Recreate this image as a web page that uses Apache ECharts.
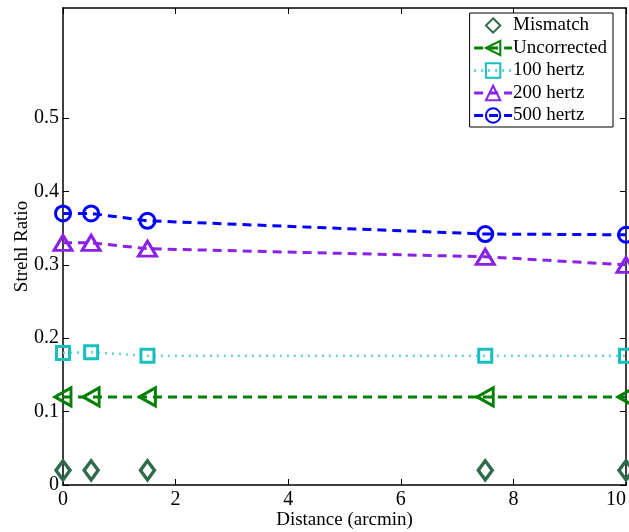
<!DOCTYPE html>
<html>
<head>
<meta charset="utf-8">
<script src="https://cdn.jsdelivr.net/npm/echarts@6/dist/echarts.min.js"></script>
<style>
  html, body { margin: 0; padding: 0; background: #fff; }
  #chart { width: 629px; height: 532px; }
</style>
</head>
<body>
<div id="chart"></div>
<script>
// data
let distance = [0, 0.5, 1.5, 7.5, 10]
let mismatch = [0.02, 0.02, 0.02, 0.02, 0.02]
let uncorrected = [0.12, 0.12, 0.12, 0.12, 0.12]
let hz100 = [0.18, 0.181, 0.176, 0.176, 0.176]
let hz200 = [0.33, 0.33, 0.322, 0.311, 0.30]
let hz500 = [0.37, 0.37, 0.36, 0.342, 0.341]
let xTicks = [0, 2, 4, 6, 8, 10]
let yTicks = [0, 0.1, 0.2, 0.3, 0.4, 0.5]
let names = ['Mismatch', 'Uncorrected', '100 hertz', '200 hertz', '500 hertz']

let pairs = ys => distance.map((x, i) => [x, ys[i]])

let myChart = echarts.init(document.getElementById('chart'))

let serif = 'Liberation Serif'
let clear = 'rgba(0,0,0,0)'

// axis helper, ticks point inward like matlab
function axisBase(extra) {
  return Object.assign({
    axisLine: { show: true, onZero: false, lineStyle: { color: '#000', width: 1.5 } },
    axisTick: { show: true, inside: true, length: 6, lineStyle: { color: '#000', width: 1 } },
    splitLine: { show: false },
    nameMoveOverlap: false,
    axisLabel: { color: '#000', fontFamily: serif, fontSize: 20 }
  }, extra)
}

let lineSeries = (name, data, color, symbol, size, dash, extra) => Object.assign({
  name: name,
  type: 'line',
  data: pairs(data),
  symbol: symbol,
  symbolSize: size,
  showAllSymbol: true,
  itemStyle: { color: clear, borderColor: color, borderWidth: 3 },
  lineStyle: { color: color, width: 3, type: dash },
  emphasis: { disabled: true },
  z: 3
}, extra || {})

let opt = {
  animation: false,
  grid: { left: 63, right: 3, top: 8, bottom: 47, outerBoundsMode: 'none', containLabel: false },
  legend: {
    right: 16,
    top: 13,
    orient: 'vertical',
    backgroundColor: '#fff',
    borderColor: '#000',
    borderWidth: 1,
    padding: [3, 6, 2, 3],
    itemGap: 3.5,
    itemWidth: 38,
    itemHeight: 18,
    textStyle: { fontFamily: serif, fontSize: 19, color: '#000', padding: [0, 0, 0, -4] },
    // mismatch has markers only, the others get a thick line in the key
    data: names.map((n, i) => i === 0 ? { name: n, lineStyle: { width: 0 } } : { name: n, lineStyle: { width: 3 } })
  },
  xAxis: [
    axisBase({
      type: 'value', min: 0, max: 10, interval: 2,
      name: 'Distance (arcmin)', nameLocation: 'middle', nameGap: 26,
      nameTextStyle: { fontFamily: serif, fontSize: 19, color: '#000' },
      axisLabel: { color: '#000', fontFamily: serif, fontSize: 20, margin: 5, alignMaxLabel: 'right' }
    }),
    axisBase({
      type: 'value', min: 0, max: 10, interval: 2, position: 'top',
      axisLabel: { show: false }
    })
  ],
  yAxis: [
    axisBase({
      type: 'value', min: 0, max: 0.65,
      axisTick: { show: true, inside: true, length: 6, customValues: yTicks, lineStyle: { color: '#000', width: 1 } },
      axisLabel: { color: '#000', fontFamily: serif, fontSize: 20, margin: 4, customValues: yTicks },
      name: 'Strehl Ratio', nameLocation: 'middle', nameGap: 31,
      nameTextStyle: { fontFamily: serif, fontSize: 19, color: '#000' }
    }),
    axisBase({
      type: 'value', min: 0, max: 0.65, position: 'right',
      axisTick: { show: true, inside: true, length: 6, customValues: yTicks, lineStyle: { color: '#000', width: 1 } },
      axisLabel: { show: false }
    })
  ],
  series: [
    {
      name: 'Mismatch',
      type: 'line',
      data: pairs(mismatch),
      symbol: 'diamond',
      symbolSize: [14, 19],
      showAllSymbol: true,
      lineStyle: { width: 0, color: '#2e6b4c' },
      itemStyle: { color: clear, borderColor: '#2e6b4c', borderWidth: 3.5 },
      emphasis: { disabled: true },
      z: 3
    },
    lineSeries('Uncorrected', uncorrected, '#008000', 'triangle', [18, 16], [9, 6], { symbolRotate: 90 }),
    lineSeries('100 hertz', hz100, '#19bfbf', 'rect', 13, [2, 5], {
      lineStyle: { color: '#66d2d2', width: 2.5, type: [2, 5] }
    }),
    lineSeries('200 hertz', hz200, '#8a22e6', 'triangle', [18, 15], [9, 6]),
    lineSeries('500 hertz', hz500, '#0000ff', 'circle', 15, [9, 6])
  ]
}

myChart.setOption(opt)
</script>
</body>
</html>
